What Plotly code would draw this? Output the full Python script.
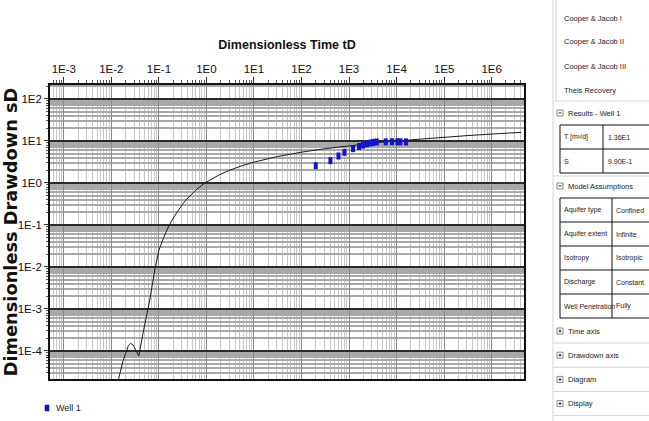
import plotly.graph_objects as go

# ---------------- data ----------------
curve_td = [0.0126, 0.01436, 0.0177, 0.0208, 0.0230, 0.0253, 0.0287, 0.0327, 0.0378,
            0.0466, 0.0644, 0.082, 0.100, 0.126, 0.158, 0.200, 0.251, 0.316, 0.398,
            0.501, 0.631, 0.794, 1.0, 1.78, 3.16, 5.62, 10, 31.6, 100, 316, 1000,
            3162, 10000, 31620, 1e5, 3.16e5, 1e6, 2e6, 4.2e6]
curve_sd = [7.9e-6, 2.28e-5, 5.9e-5, 1.06e-4, 1.37e-4, 1.52e-4, 1.39e-4, 1.06e-4, 7.6e-5,
            2.7e-4, 1.64e-3, 8.5e-3, 0.0249, 0.0498, 0.0893, 0.146, 0.221, 0.316, 0.430,
            0.561, 0.708, 0.873, 1.044, 1.52, 2.04, 2.58, 3.14, 4.27, 5.42, 6.57, 7.72,
            8.87, 10.02, 11.17, 12.32, 13.47, 14.62, 15.32, 16.06]

well_td = [199.5, 406, 599, 800, 1213, 1622, 1968, 2388, 2857, 3258, 3820,
           5912, 8020, 10420, 12050, 15810]
well_sd = [2.58, 3.40, 4.39, 5.38, 6.56, 7.40, 7.94, 8.53, 8.96, 9.26, 9.47,
           9.55, 9.6, 9.6, 9.55, 9.5]

x_tickvals = [1e-3, 1e-2, 1e-1, 1e0, 1e1, 1e2, 1e3, 1e4, 1e5, 1e6]
x_ticktext = ["1E-3", "1E-2", "1E-1", "1E0", "1E1", "1E2", "1E3", "1E4", "1E5", "1E6"]
y_tickvals = [1e-4, 1e-3, 1e-2, 1e-1, 1e0, 1e1, 1e2]
y_ticktext = ["1E-4", "1E-3", "1E-2", "1E-1", "1E0", "1E1", "1E2"]

legend_label = "Well 1"
methods = ["Cooper & Jacob I", "Cooper & Jacob II", "Cooper & Jacob III", "Theis Recovery"]
results_title = "Results - Well 1"
results_rows = [["T [m²/d]", "1.36E1"], ["S", "9.90E-1"]]
assumptions_title = "Model Assumptions"
assumption_rows = [["Aquifer type", "Confined"], ["Aquifer extent", "Infinite"],
                   ["Isotropy", "Isotropic"], ["Discharge", "Constant"],
                   ["Well Penetration", "Fully"]]
collapsed_sections = ["Time axis", "Drawdown axis", "Diagram", "Display"]

# ---------------- layout geometry ----------------
W, H = 649, 421
L, R, T, B = 50, 524, 85, 379

def PX(x):
    return (x - L) / (R - L)

def PY(y):
    return (B - y) / (B - T)

SANS = "Liberation Sans, Arial, sans-serif"
MARK_BLUE = "#1414c8"

fig = go.Figure()
fig.add_trace(go.Scatter(x=curve_td, y=curve_sd, mode="lines",
                         line=dict(color="#1a1a1a", width=1), showlegend=False,
                         hoverinfo="skip"))
fig.add_trace(go.Scatter(x=well_td, y=well_sd, mode="markers", name=legend_label,
                         showlegend=False,
                         marker=dict(symbol="line-ns", size=5,
                                     line=dict(color=MARK_BLUE, width=4))))

fig.update_xaxes(type="log", range=[-3.29, 6.68], side="top", automargin=False,
                 tickvals=x_tickvals, ticktext=x_ticktext,
                 tickfont=dict(family=SANS, size=11.5, color="#111"),
                 ticks="outside", ticklen=6, tickcolor="#333",
                 showgrid=True, gridcolor="#8a8a8a", gridwidth=1,
                 minor=dict(dtick="D1", showgrid=True, gridcolor="#c8c8c8",
                            ticks="outside", ticklen=3, tickcolor="#555"),
                 showline=True, linecolor="#111", linewidth=1.5, mirror=True,
                 zeroline=False,
                 title=dict(text="<b>Dimensionless Time tD</b>",
                            font=dict(family=SANS, size=12.5, color="#111"),
                            standoff=10))
fig.update_yaxes(type="log", range=[-4.667, 2.333], automargin=False,
                 tickvals=y_tickvals, ticktext=y_ticktext,
                 tickfont=dict(family=SANS, size=11.5, color="#111"),
                 ticks="outside", ticklen=4, tickcolor="#333",
                 showgrid=True, gridcolor="#2a2a2a", gridwidth=1.5,
                 minor=dict(dtick="D1", showgrid=True, gridcolor="#a8a8a8",
                            ticks="outside", ticklen=2, tickcolor="#555"),
                 showline=True, linecolor="#111", linewidth=1.5, mirror=True,
                 zeroline=False,
                 title=dict(text="<b>Dimensionless Drawdown sD</b>",
                            font=dict(family="DejaVu Sans", size=17.8, color="#111"),
                            standoff=3))

shapes = []
annotations = []
LINEC = "#d4d4d4"
HEAD = 7.5
CELL = 7

def text(x, y, s, size=HEAD):
    annotations.append(dict(xref="paper", yref="paper", x=PX(x), y=PY(y),
                            text=s, showarrow=False, xanchor="left", yanchor="middle",
                            font=dict(family=SANS, size=size, color="#222")))

def icon(y, plus):
    x0, x1 = 557, 563
    shapes.append(dict(type="rect", xref="paper", yref="paper",
                       x0=PX(x0), x1=PX(x1), y0=PY(y - 3), y1=PY(y + 3),
                       line=dict(color="#888", width=1), fillcolor="white"))
    shapes.append(dict(type="line", xref="paper", yref="paper",
                       x0=PX(x0 + 1.5), x1=PX(x1 - 1.5), y0=PY(y), y1=PY(y),
                       line=dict(color="#333", width=1)))
    if plus:
        shapes.append(dict(type="line", xref="paper", yref="paper",
                           x0=PX(560), x1=PX(560), y0=PY(y - 1.5), y1=PY(y + 1.5),
                           line=dict(color="#333", width=1)))

def hline(y, x0=553, x1=649, color=LINEC, width=1):
    shapes.append(dict(type="line", xref="paper", yref="paper",
                       x0=PX(x0), x1=PX(x1), y0=PY(y), y1=PY(y),
                       line=dict(color=color, width=width)))

def vline(x, y0, y1, color="#111", width=1):
    shapes.append(dict(type="line", xref="paper", yref="paper",
                       x0=PX(x), x1=PX(x), y0=PY(y0), y1=PY(y1),
                       line=dict(color=color, width=width)))

# legend (marker + label) under the plot
shapes.append(dict(type="rect", xref="paper", yref="paper",
                   x0=PX(45), x1=PX(49), y0=PY(405), y1=PY(411),
                   line=dict(color="#0a0a80", width=0.5), fillcolor=MARK_BLUE))
text(54, 408, legend_label, size=9)

# panel borders
vline(553, 0, 421, LINEC)
vline(556, 0, 101, LINEC)

# method list
for i, m in enumerate(methods):
    text(562, 18 + i * 24, m)
hline(101)

# Results section
icon(113, False)
text(566, 113, results_title)
top = 125
rh = 24
for i, (k, v) in enumerate(results_rows):
    text(562, top + rh * i + rh / 2, k, CELL)
    text(606, top + rh * i + rh / 2, v, CELL)
for i in range(len(results_rows) + 1):
    hline(top + rh * i, 560, 649, "#111", 1)
vline(560, top, top + rh * len(results_rows))
vline(603, top, top + rh * len(results_rows))
hline(176)

# Model assumptions
icon(186, False)
text(566, 186, assumptions_title)
top = 198
for i, (k, v) in enumerate(assumption_rows):
    text(562, top + rh * i + rh / 2, k, CELL)
    text(614, top + rh * i + rh / 2, v, CELL)
for i in range(len(assumption_rows) + 1):
    hline(top + rh * i, 560, 649, "#111", 1)
vline(560, top, top + rh * len(assumption_rows))
vline(612, top, top + rh * len(assumption_rows))

# collapsed sections
for i, s in enumerate(collapsed_sections):
    yc = 331 + i * 24.2
    icon(yc, True)
    text(566, yc, s)
    hline(yc + 12)

fig.update_layout(width=W, height=H, margin=dict(l=L, r=W - R, t=T, b=H - B),
                  paper_bgcolor="white", plot_bgcolor="white",
                  shapes=shapes, annotations=annotations,
                  showlegend=False)

fig.write_html("out.html")
